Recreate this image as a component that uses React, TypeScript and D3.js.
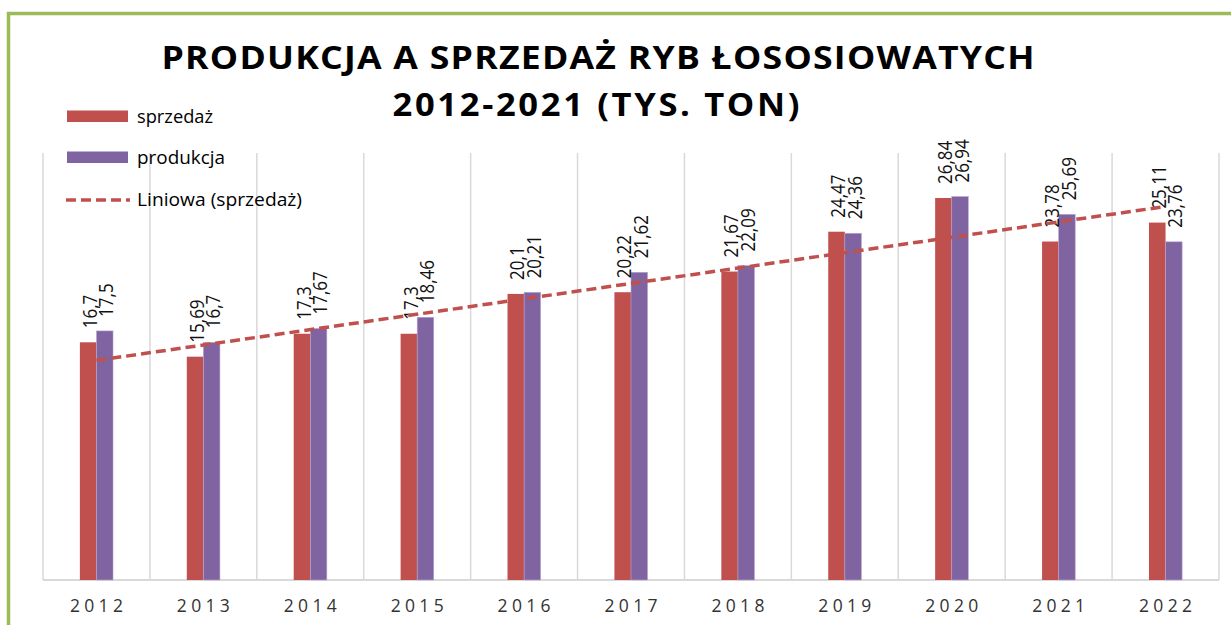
import React from "react";
import * as d3 from "d3";

const years = ["2012", "2013", "2014", "2015", "2016", "2017", "2018", "2019", "2020", "2021", "2022"];
const sprzedaz = [16.7, 15.69, 17.3, 17.3, 20.1, 20.22, 21.67, 24.47, 26.84, 23.78, 25.11];
const produkcja = [17.5, 16.7, 17.67, 18.46, 20.21, 21.62, 22.09, 24.36, 26.94, 25.69, 23.76];
const titleLines = ["PRODUKCJA  A  SPRZEDAŻ  RYB  ŁOSOSIOWATYCH", "2012-2021  (TYS.  TON)"];
const legendLabels = ["sprzedaż", "produkcja", "Liniowa (sprzedaż)"];

const W = 1231;
const H = 625;
const RED = "#C0504D";
const PURPLE = "#8064A2";
const GREEN = "#9BBB59";
const GRID = "#D9D9D9";
const FONT = "'Open Sans', 'DejaVu Sans', sans-serif";

const fmt = (v: number) => String(v).replace(".", ",");

export default function App() {
  const plotLeft = 43;
  const plotRight = 1219;
  const plotTop = 153;
  const plotBottom = 580;

  const x = d3.scaleBand<string>().domain(years).range([plotLeft, plotRight]).paddingInner(0).paddingOuter(0);
  const y = d3.scaleLinear().domain([0, 30]).range([plotBottom, plotTop]);
  const bw = x.bandwidth() * 0.155;

  // linear trend (least squares) of sprzedaż
  const idx = sprzedaz.map((_, i) => i + 1);
  const mx = d3.mean(idx) as number;
  const my = d3.mean(sprzedaz) as number;
  const sxy = d3.sum(idx.map((xi, i) => (xi - mx) * (sprzedaz[i] - my)));
  const sxx = d3.sum(idx.map((xi) => (xi - mx) * (xi - mx)));
  const slope = sxy / sxx;
  const icpt = my - slope * mx;
  const trendPts: [number, number][] = idx.map((xi, i) => [
    (x(years[i]) as number) + x.bandwidth() / 2,
    y(icpt + slope * xi),
  ]);
  const trendPath = d3.line()([trendPts[0], trendPts[trendPts.length - 1]]) as string;

  const boundaries = years.map((yr) => x(yr) as number).concat([plotRight]);

  const labelGap = 14;

  return (
    <svg
      width={W}
      height={H}
      style={{ position: "absolute", left: 0, top: 0, background: "#fff" }}
      fontFamily={FONT}
    >
      <rect x={0} y={0} width={W} height={H} fill="#fff" />
      {/* outer green border */}
      <rect x={8.5} y={13.5} width={W + 20} height={H + 20} fill="none" stroke={GREEN} strokeWidth={3.5} />

      {/* title */}
      <g transform="translate(598,69) scale(1.08,1)">
        <text x={0} y={0} textAnchor="middle" fontSize={33} fontWeight={700} fill="#000"
          textLength={873 / 1.08} lengthAdjust="spacing">{titleLines[0]}</text>
      </g>
      <g transform="translate(596,116) scale(1.08,1)">
        <text x={0} y={0} textAnchor="middle" fontSize={32} fontWeight={700} fill="#000"
          textLength={407 / 1.08} lengthAdjust="spacing">{titleLines[1]}</text>
      </g>

      {/* gridlines */}
      {boundaries.map((bx, i) => (
        <line key={"g" + i} x1={bx} x2={bx} y1={plotTop} y2={plotBottom} stroke={GRID} strokeWidth={1.5} />
      ))}
      <line x1={plotLeft} x2={plotRight} y1={plotBottom} y2={plotBottom} stroke={GRID} strokeWidth={2} />

      {/* bars */}
      {years.map((yr, i) => {
        const cx = (x(yr) as number) + x.bandwidth() / 2;
        return (
          <g key={"b" + yr}>
            <rect x={cx - bw} y={y(sprzedaz[i])} width={bw} height={plotBottom - y(sprzedaz[i])} fill={RED} />
            <rect x={cx} y={y(produkcja[i])} width={bw} height={plotBottom - y(produkcja[i])} fill={PURPLE}
              stroke="#B9A6D0" strokeWidth={0.6} />
          </g>
        );
      })}

      {/* data labels */}
      {years.map((yr, i) => {
        const cx = (x(yr) as number) + x.bandwidth() / 2;
        const rx = cx - bw / 2;
        const px = cx + bw / 2;
        const ry = y(sprzedaz[i]) - labelGap;
        const py = y(produkcja[i]) - labelGap;
        return (
          <g key={"l" + yr} fontSize={17} fill="#111">
            <text transform={`translate(${rx + 0.5},${ry}) rotate(-90) scale(1,1.2)`} dominantBaseline="central">{fmt(sprzedaz[i])}</text>
            <text transform={`translate(${px + 0.5},${py}) rotate(-90) scale(1,1.2)`} dominantBaseline="central">{fmt(produkcja[i])}</text>
          </g>
        );
      })}

      {/* trend line */}
      <path d={trendPath} fill="none" stroke={RED} strokeWidth={3.5} strokeDasharray="10 5" />

      {/* x axis labels */}
      {years.map((yr) => (
        <text key={"t" + yr} x={(x(yr) as number) + x.bandwidth() / 2} y={612} textAnchor="middle"
          fontSize={17.5} fill="#333" textLength={53} lengthAdjust="spacing">{yr}</text>
      ))}

      {/* legend */}
      <rect x={67} y={110.5} width={61} height={11.5} fill={RED} />
      <text x={137} y={116} dominantBaseline="central" fontSize={18} fill="#000" textLength={76} lengthAdjust="spacingAndGlyphs">{legendLabels[0]}</text>
      <rect x={67} y={151.5} width={61} height={11.5} fill={PURPLE} />
      <text x={137} y={157} dominantBaseline="central" fontSize={18} fill="#000" textLength={88} lengthAdjust="spacingAndGlyphs">{legendLabels[1]}</text>
      <line x1={66} x2={130} y1={200} y2={200} stroke={RED} strokeWidth={3.5} strokeDasharray="10 5" />
      <text x={137} y={199} dominantBaseline="central" fontSize={18} fill="#000" textLength={165} lengthAdjust="spacingAndGlyphs">{legendLabels[2]}</text>
    </svg>
  );
}
